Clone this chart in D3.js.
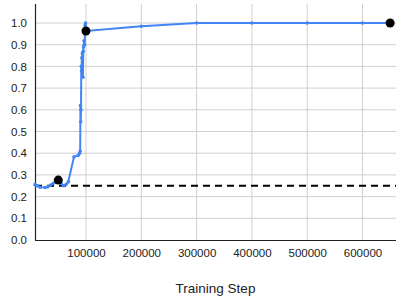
<!DOCTYPE html>
<html><head><meta charset="utf-8">
<script src="https://cdn.jsdelivr.net/npm/d3@7"></script>
<style>body{margin:0;background:#fff;}svg{display:block;font-family:Arial,"Liberation Sans",sans-serif;}</style>
</head><body>
<svg id="c" width="396" height="302"></svg>
<script>
const steps = [7800,12000,17000,26000,31000,36000,41000,49900,55000,59000,64000,68000,78300,86000,88500,89500,90000,90500,91000,91500,92000,92500,93500,94500,95000,95500,96500,97500,98500,99200,100000,200000,300000,400000,500000,600000,650000];
const accuracy = [0.255,0.25,0.243,0.242,0.245,0.253,0.261,0.276,0.262,0.25,0.256,0.268,0.383,0.39,0.40,0.41,0.62,0.545,0.60,0.80,0.78,0.84,0.86,0.75,0.87,0.89,0.918,0.90,0.99,1.0,0.963,0.985,1.0,1.0,1.0,1.0,1.0];
const highlightSteps = [49900,100000,650000];
const highlightValues = [0.276,0.963,1.0];
const baseline = 0.25;
const xTicks = [100000,200000,300000,400000,500000,600000];
const yTicks = [0,0.1,0.2,0.3,0.4,0.5,0.6,0.7,0.8,0.9,1.0];
const xTitle = "Training Step";

const svg = d3.select("#c");
const L = 35, R = 396, T = 4, B = 240;
const x = d3.scaleLinear().domain([7800, 660600]).range([L, R]);
const y = d3.scaleLinear().domain([0, 1.0876]).range([B, T]);

// gridlines
svg.append("g").selectAll("line").data(yTicks.filter(d=>d>0)).join("line")
  .attr("x1", L).attr("x2", R).attr("y1", d=>y(d)).attr("y2", d=>y(d))
  .attr("stroke", "#d0d0d0").attr("stroke-width", 1);
svg.append("g").selectAll("line").data(xTicks).join("line")
  .attr("x1", d=>x(d)).attr("x2", d=>x(d)).attr("y1", T).attr("y2", B)
  .attr("stroke", "#d0d0d0").attr("stroke-width", 1);

// axes
const yAxis = d3.axisLeft(y).tickValues(yTicks).tickFormat(d3.format(".1f")).tickSize(0).tickPadding(8);
const gy = svg.append("g").attr("transform", `translate(${L},0)`).call(yAxis);
gy.select(".domain").remove();
gy.selectAll("text").attr("font-size", "11.5px").attr("fill", "#222").attr("font-family", "Arial, 'Liberation Sans', sans-serif");

const xAxis = d3.axisBottom(x).tickValues(xTicks).tickFormat(d3.format("d")).tickSize(0).tickPadding(9);
const gx = svg.append("g").attr("transform", `translate(0,${B})`).call(xAxis);
gx.select(".domain").remove();
gx.selectAll("text").attr("font-size", "11.5px").attr("fill", "#222").attr("font-family", "Arial, 'Liberation Sans', sans-serif");

// baseline dashed
svg.append("line").attr("x1", L).attr("x2", R).attr("y1", y(baseline)).attr("y2", y(baseline))
  .attr("stroke", "#000").attr("stroke-width", 2).attr("stroke-dasharray", "7,5");

// axis lines
svg.append("line").attr("x1", L+0.5).attr("x2", L+0.5).attr("y1", T).attr("y2", B).attr("stroke", "#222").attr("stroke-width", 1.2);
svg.append("line").attr("x1", L).attr("x2", R).attr("y1", B+0.5).attr("y2", B+0.5).attr("stroke", "#222").attr("stroke-width", 1.2);

// series line
const data = steps.map((s,i)=>[s, accuracy[i]]);
svg.append("path").datum(data)
  .attr("d", d3.line().x(d=>x(d[0])).y(d=>y(d[1])))
  .attr("fill", "none").attr("stroke", "#4285f4").attr("stroke-width", 2);
svg.append("g").selectAll("circle").data(data).join("circle")
  .attr("cx", d=>x(d[0])).attr("cy", d=>y(d[1])).attr("r", 1.8).attr("fill", "#4285f4");

// highlights
svg.append("g").selectAll("circle").data(highlightSteps.map((s,i)=>[s, highlightValues[i]])).join("circle")
  .attr("cx", d=>x(d[0])).attr("cy", d=>y(d[1])).attr("r", 4.5).attr("fill", "#000");

// title
svg.append("text").attr("x", (L+R)/2).attr("y", 293).attr("text-anchor", "middle")
  .attr("font-size", "13.5px").attr("fill", "#222").text(xTitle);
</script>
</body></html>
